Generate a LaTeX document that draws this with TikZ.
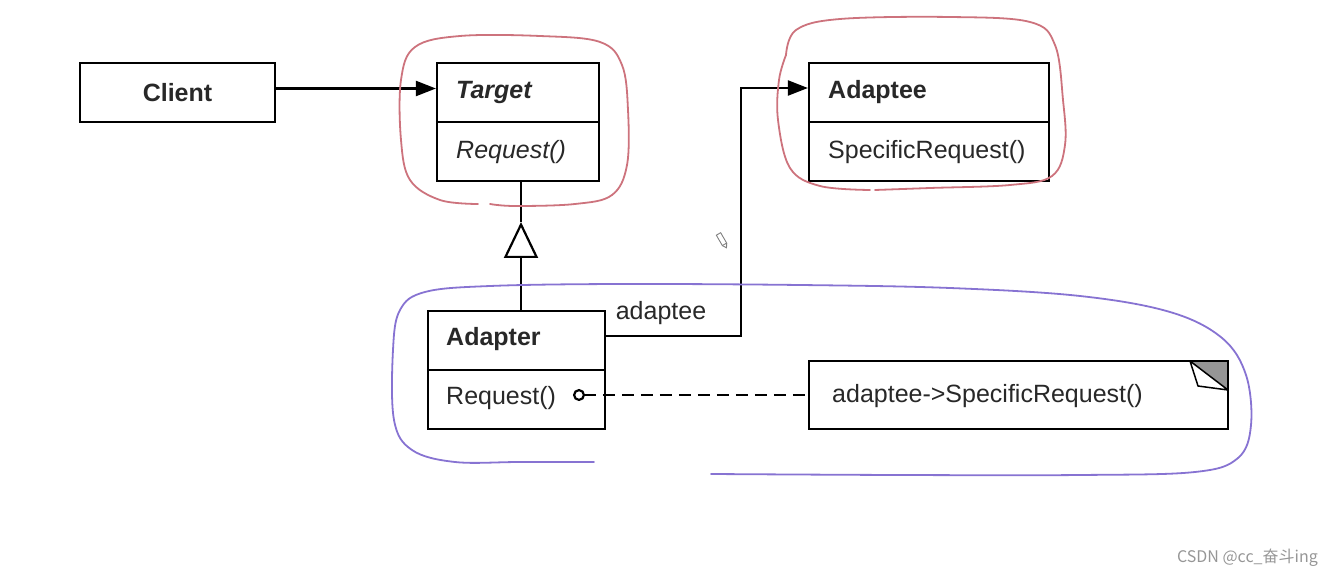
\documentclass[tikz,border=0pt]{standalone}
\usepackage{fontspec}
\setmainfont{Liberation Sans}
\newfontfamily\cjk{Noto Sans CJK SC}
\usetikzlibrary{arrows.meta}
\definecolor{loopred}{RGB}{205,115,125}
\definecolor{looppurple}{RGB}{135,115,210}
\definecolor{wmgray}{RGB}{150,150,150}
\definecolor{textgray}{RGB}{40,40,40}
\definecolor{eargray}{RGB}{150,150,150}
\begin{document}
\begin{tikzpicture}[x=1pt,y=-1pt,
  every node/.style={font=\fontsize{25}{30}\selectfont, text=textgray},
  box/.style={draw, line width=2.2pt, inner sep=0pt},
  lbl/.style={inner sep=0pt},
  conn/.style={line width=2.2pt},
  divider/.style={line width=2.2pt},
  headtip/.style={-{Triangle[length=20pt,width=15pt]}},
  loop/.style={line width=1.8pt, line cap=round, line join=round},
  dashline/.style={dash pattern=on 12pt off 7pt}]
\useasboundingbox (0,0) rectangle (1331,580);

% boxes
\node[box, minimum width=195pt, minimum height=59pt, font=\fontsize{25}{30}\selectfont\bfseries] (client) at (177.5,92.5) {Client};

\node[box, minimum width=162pt, minimum height=118pt] (target) at (518,122) {};
\draw[divider] (target.west) -- (target.east);
\node[lbl, anchor=west, font=\fontsize{25}{30}\selectfont\bfseries\itshape] (targetname) at (456,92) {Target};
\node[lbl, anchor=west, font=\fontsize{25}{30}\selectfont\itshape] (targetop) at (456,152) {Request()};

\node[box, minimum width=240pt, minimum height=118pt] (adaptee) at (929,122) {};
\draw[divider] (adaptee.west) -- (adaptee.east);
\node[lbl, anchor=west, font=\fontsize{25}{30}\selectfont\bfseries] (adapteename) at (828,92) {Adaptee};
\node[lbl, anchor=west] (adapteeop) at (828,152) {SpecificRequest()};

\node[box, minimum width=177pt, minimum height=118pt] (adapter) at (516.5,370) {};
\draw[divider] (adapter.west) -- (adapter.east);
\node[lbl, anchor=west, font=\fontsize{25}{30}\selectfont\bfseries] (adaptername) at (446,339) {Adapter};
\node[lbl, anchor=west] (adapterop) at (446,398) {Request()};

\node[inner sep=0pt, minimum width=419pt, minimum height=68pt] (note) at (1018.5,395) {};
\node[lbl, anchor=west] (notetext) at (832,396) {adaptee->SpecificRequest()};
% dog ear
\fill[eargray] (1190,361) -- (1228,361) -- (1228,390) -- cycle;
\draw[line width=1.5pt, fill=white, line join=round] (1190,361) -- (1228,390) -- (1198,386) -- cycle;
\draw[line width=2.2pt] (note.south west) rectangle (note.north east);

% connectors
\draw[conn, headtip] ([yshift=4pt]client.east) -- ([yshift=4pt]client.east -| target.west);

\coordinate (elbow) at (741,336);
\draw[conn, headtip] ([yshift=34pt]adapter.east) -- (elbow) |- ([yshift=34pt]adaptee.west);
\node[lbl] (role) at (661,313) {adaptee};

\coordinate (tri) at (521,222);
\draw[conn, -{Triangle[open,length=36pt,width=34pt]}] (tri |- adapter.north) -- (tri);
\draw[conn] (tri) -- (tri |- target.south);

\coordinate (lolly) at (573,395);
\draw[conn, dashline, {Circle[open,length=12pt,width=12pt]}-] (lolly) -- (note.west);

% hand-drawn highlights
\draw[loop, loopred] plot[smooth, tension=0.6] coordinates {
 (478,204) (440,200) (410,180) (401,140) (401,80) (415,47) (460,36) (540,36) (600,42) (622,65) (628,110) (627,165) (612,195) (575,204) (515,206) (490,204)};
\draw[loop, loopred] plot[smooth, tension=0.6] coordinates {
 (786,55) (796,30) (840,19) (950,17) (1030,22) (1055,45) (1063,100) (1065,145) (1052,176) (1010,185) (930,188) (875,190)};
\draw[loop, loopred] plot[smooth, tension=0.6] coordinates {
 (870,190) (820,186) (790,168) (778,120) (779,80) (786,55)};
\draw[loop, looppurple] plot[smooth, tension=0.6] coordinates {
 (594,462) (520,462) (455,462) (412,450) (394,420) (393,350) (400,310) (425,292) (490,286) (620,284) (800,285) (950,288) (1080,296) (1170,312) (1222,338) (1246,375) (1251,425) (1238,458) (1195,472) (1080,475) (900,475) (711,474)};

% pencil cursor
\begin{scope}[shift={(722,240)}, rotate=-60]
\draw[line width=0.9pt, gray] (-7,-2.5) rectangle (5,2.5);
\draw[line width=0.9pt, gray] (5,-2.5) -- (9,0) -- (5,2.5);
\end{scope}

% watermark
\node[lbl, anchor=east, text=wmgray, font=\cjk\fontsize{16}{19}\selectfont] (watermark) at (1318,558) {CSDN @cc\_奋斗ing};
\end{tikzpicture}
\end{document}
